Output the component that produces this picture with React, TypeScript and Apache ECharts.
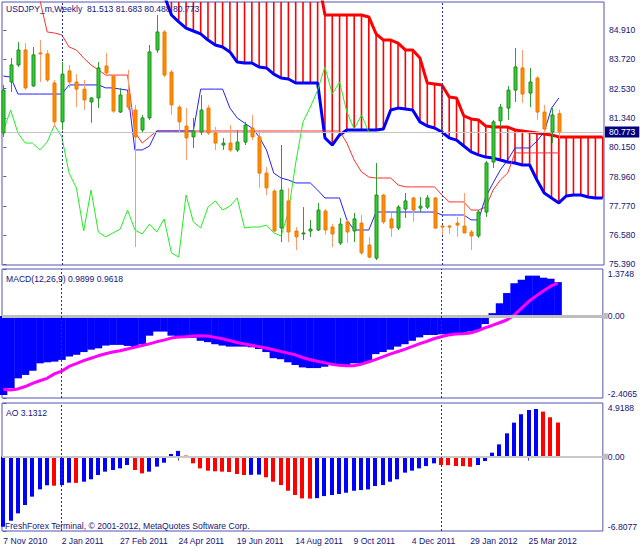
import React, { useEffect, useRef } from 'react';
import * as echarts from 'echarts';

// ---------- data (weekly USDJPY, index 0 = week of 7 Nov 2010) ----------
const opens = [80.73, 82.80, 83.49, 84.10, 82.64, 83.98, 83.94, 82.76, 81.18, 83.25,
  82.80, 82.51, 81.99, 82.15, 83.45, 83.04, 81.58, 82.31, 81.66, 80.85,
  81.34, 84.10, 84.83, 83.20, 81.78, 81.01, 80.57, 80.77, 81.74, 80.73,
  80.24, 80.32, 80.04, 80.36, 80.93, 80.57, 79.10, 78.37, 76.87, 77.97,
  76.75, 76.63, 76.75, 76.79, 77.56, 76.91, 76.26, 77.12, 76.75, 77.07,
  76.18, 75.65, 78.21, 77.24, 76.87, 77.64, 78.09, 77.68, 77.72, 78.09,
  76.95, 76.95, 77.07, 76.95, 76.71, 76.55, 77.52, 79.55, 81.22, 81.74,
  82.47, 83.37, 82.35, 82.96, 81.58, 80.77, 81.513];
const highs = [82.68, 83.77, 84.42, 84.38, 84.22, 84.50, 84.10, 82.88, 83.61, 83.49,
  83.12, 82.88, 82.19, 83.61, 83.98, 83.08, 82.56, 83.29, 81.87, 81.46,
  84.30, 85.52, 84.91, 83.29, 81.87, 81.74, 81.34, 82.27, 81.87, 80.97,
  80.53, 81.05, 80.85, 81.18, 81.46, 80.85, 79.35, 78.45, 80.24, 78.50,
  76.91, 77.72, 77.20, 77.89, 77.64, 77.03, 77.28, 77.24, 77.48, 77.40,
  76.51, 79.51, 78.25, 77.48, 77.80, 78.29, 78.13, 78.13, 78.21, 78.13,
  76.99, 76.99, 77.32, 78.29, 76.79, 77.60, 79.59, 81.26, 81.91, 82.64,
  84.18, 84.10, 83.37, 83.04, 81.87, 81.74, 81.683];
const lows = [80.57, 82.39, 83.41, 82.47, 82.60, 82.80, 82.80, 80.97, 80.85, 82.56,
  81.78, 81.66, 81.14, 81.74, 83.08, 81.54, 81.54, 81.66, 76.10, 80.77,
  81.26, 83.98, 83.00, 81.46, 80.77, 79.63, 80.12, 80.65, 80.65, 80.04,
  80.04, 79.96, 79.96, 80.24, 80.44, 78.50, 78.21, 76.71, 76.30, 76.30,
  75.98, 76.38, 76.51, 76.75, 76.59, 76.10, 76.18, 76.26, 76.30, 75.78,
  75.65, 75.57, 77.03, 76.51, 76.79, 77.28, 77.12, 77.52, 77.64, 76.83,
  76.59, 76.63, 76.51, 76.67, 75.98, 76.47, 77.32, 79.31, 80.97, 81.26,
  81.99, 81.95, 81.78, 81.26, 80.77, 80.32, 80.488];
const closes = [82.47, 83.49, 84.10, 82.56, 83.90, 83.94, 82.88, 81.18, 83.12, 82.80,
  82.51, 82.07, 82.15, 83.37, 83.17, 81.62, 82.27, 81.78, 80.57, 81.34,
  84.02, 84.83, 83.08, 81.87, 81.18, 80.53, 80.81, 81.66, 80.73, 80.32,
  80.32, 80.04, 80.36, 81.05, 80.57, 79.10, 78.50, 76.75, 78.41, 76.71,
  76.51, 76.67, 76.83, 77.60, 76.79, 76.63, 77.03, 76.71, 77.24, 75.86,
  75.69, 78.21, 77.12, 76.87, 77.72, 77.97, 77.60, 77.76, 78.09, 76.87,
  76.91, 76.91, 76.99, 76.67, 76.55, 77.52, 79.51, 81.18, 81.78, 82.47,
  83.41, 82.31, 82.80, 81.58, 80.89, 81.46, 80.773];

const tenkan = [83.04, 83.00, 82.31, 82.31, 82.31, 82.31, 82.31, 82.31, 82.31, 82.68,
  82.68, 82.68, 82.68, 82.68, 82.56, 82.56, 82.51, 82.47, 80.04, 80.04,
  80.20, 80.81, 80.81, 80.81, 80.81, 80.81, 80.81, 82.51, 82.51, 82.51,
  82.51, 81.74, 81.34, 81.13, 80.93, 80.57, 80.04, 79.10, 78.90, 78.82,
  78.70, 78.70, 78.70, 78.41, 78.09, 78.09, 78.09, 77.20, 76.79, 76.79,
  76.79, 77.52, 77.52, 77.52, 77.52, 77.52, 77.52, 77.52, 77.52, 77.52,
  77.40, 77.40, 77.40, 77.40, 77.20, 77.20, 78.13, 78.70, 79.23, 79.63,
  80.12, 80.12, 80.12, 80.40, 80.77, 81.74, 82.15];
const kijun = [86.60, 86.60, 86.50, 86.50, 86.40, 86.13, 84.83, 84.79, 84.71, 84.22,
  84.10, 83.77, 83.49, 83.29, 83.08, 83.08, 83.08, 83.08, 80.77, 80.32,
  80.57, 80.81, 80.81, 80.81, 80.81, 80.81, 80.81, 80.81, 80.81, 80.81,
  80.81, 80.81, 80.81, 80.81, 80.81, 80.81, 80.81, 80.81, 80.81, 80.81,
  80.81, 80.81, 80.81, 80.81, 80.81, 80.81, 80.81, 80.32, 79.63, 79.15,
  78.94, 78.90, 78.90, 78.90, 78.62, 78.54, 78.54, 78.54, 78.54, 78.54,
  78.21, 77.93, 77.93, 77.93, 77.60, 77.60, 77.72, 78.41, 78.82, 79.10,
  79.92, 79.92, 79.92, 79.92, 79.92, 79.92, 79.92];
const senkouA = [87.15, 87.15, 87.15, 87.15, 87.15, 87.15, 87.15, 87.15, 87.15, 87.15,
  87.15, 87.15, 87.15, 87.15, 87.15, 87.15, 87.15, 87.15, 87.15, 87.15,
  87.15, 87.15, 87.15, 87.15, 87.15, 87.15, 87.15, 87.15, 87.15, 87.15,
  87.15, 87.15, 87.15, 87.15, 87.15, 87.15, 87.15, 87.15, 87.15, 87.15,
  87.15, 87.15, 87.15, 87.15, 85.52, 85.52, 85.52, 85.52, 85.52, 85.52,
  85.44, 84.75, 84.50, 84.50, 84.38, 84.10, 84.10, 83.77, 82.76, 82.72,
  82.68, 82.19, 82.15, 81.42, 81.30, 81.26, 81.01, 80.97, 80.97, 80.97,
  80.85, 80.81, 80.77, 80.73, 80.69, 80.65, 80.57, 80.57, 80.57, 80.57,
  80.57, 80.57, 80.57];
const senkouB = [86.90, 86.90, 86.90, 86.90, 86.90, 86.90, 86.90, 86.90, 86.90, 86.90,
  86.90, 86.90, 86.90, 86.90, 86.90, 86.90, 86.90, 86.90, 86.90, 86.90,
  86.90, 86.90, 86.33, 85.52, 85.24, 84.99, 84.87, 84.75, 84.50, 84.30,
  84.22, 84.02, 83.61, 83.57, 83.57, 83.41, 83.37, 83.12, 82.96, 82.92,
  82.76, 82.76, 82.76, 82.76, 80.53, 80.24, 80.65, 80.85, 80.85, 80.85,
  80.85, 80.85, 80.89, 81.66, 81.74, 81.70, 81.66, 81.18, 81.01, 80.93,
  80.77, 80.53, 80.44, 80.20, 79.96, 79.84, 79.75, 79.71, 79.63, 79.55,
  79.51, 79.43, 79.43, 78.82, 78.29, 78.09, 77.89, 78.17, 78.21, 78.21,
  78.13, 78.09, 78.09];

const macdMain = [-2.32, -2.12, -1.83, -1.73, -1.61, -1.39, -1.36, -1.34, -1.29, -1.19,
  -1.14, -1.06, -0.99, -0.95, -0.87, -0.85, -0.85, -0.88, -0.91, -0.83,
  -0.58, -0.46, -0.46, -0.58, -0.61, -0.61, -0.64, -0.73, -0.77, -0.83,
  -0.87, -0.90, -0.90, -0.90, -0.92, -0.97, -1.06, -1.24, -1.27, -1.36,
  -1.44, -1.51, -1.53, -1.53, -1.49, -1.44, -1.44, -1.44, -1.39, -1.39,
  -1.34, -1.12, -1.06, -0.99, -0.90, -0.83, -0.73, -0.63, -0.56, -0.56,
  -0.54, -0.56, -0.53, -0.51, -0.46, -0.41, -0.24, 0.08, 0.37, 0.67,
  0.96, 1.06, 1.18, 1.18, 1.12, 1.09, 0.9899];
const macdSignal = [-2.15, -2.17, -2.14, -2.07, -1.98, -1.90, -1.83, -1.70, -1.62, -1.48,
  -1.40, -1.31, -1.24, -1.17, -1.11, -1.06, -1.02, -0.97, -0.92, -0.87,
  -0.82, -0.76, -0.71, -0.65, -0.62, -0.61, -0.59, -0.58, -0.59, -0.63,
  -0.67, -0.72, -0.78, -0.82, -0.86, -0.90, -0.94, -0.99, -1.04, -1.09,
  -1.14, -1.22, -1.28, -1.33, -1.37, -1.42, -1.45, -1.46, -1.46, -1.42,
  -1.35, -1.28, -1.20, -1.12, -1.05, -0.98, -0.90, -0.82, -0.75, -0.67,
  -0.61, -0.56, -0.53, -0.52, -0.50, -0.44, -0.35, -0.28, -0.20, -0.12,
  0.02, 0.22, 0.42, 0.58, 0.73, 0.87, 0.9618];
const aoValues = [-6.42, -5.87, -5.19, -4.43, -3.66, -2.99, -2.62, -2.66, -2.60, -2.38,
  -2.40, -2.29, -2.07, -1.68, -1.37, -1.22, -1.07, -0.76, -1.22, -1.53,
  -1.37, -0.91, -0.55, 0.25, 0.53, 0.10, -0.61, -1.07, -1.28, -1.34,
  -1.37, -1.40, -1.59, -1.68, -1.66, -1.64, -1.89, -2.29, -2.60, -3.12,
  -3.51, -3.82, -3.84, -3.80, -3.61, -3.51, -3.42, -3.30, -3.12, -3.06,
  -3.00, -2.69, -2.60, -2.29, -2.07, -1.46, -1.28, -1.07, -0.86, -0.61,
  -0.76, -0.78, -0.86, -0.87, -0.92, -0.76, -0.40, 0.37, 1.13, 2.14,
  3.12, 3.89, 4.28, 4.37, 4.13, 3.61, 3.1312];

const tickIndex = [0, 8, 16, 24, 32, 40, 48, 56, 64, 72];
const tickLabels = ['7 Nov 2010', '2 Jan 2011', '27 Feb 2011', '24 Apr 2011', '19 Jun 2011',
  '14 Aug 2011', '9 Oct 2011', '4 Dec 2011', '29 Jan 2012', '25 Mar 2012'];
const priceTicks = [75.39, 76.58, 77.77, 78.96, 80.15, 81.34, 82.53, 83.72, 84.91];
const separatorIndex = [8, 60];
const lastPrice = 80.773;
const chikouShift = 26;
const priceRange = [75.369, 86.047];
const macdRange = [-2.4065, 1.3748];
const aoRange = [-6.8077, 4.9188];
const xRange = [-0.178, 82.176];

// ---------- styling ----------
const FONT = 'Tahoma, "Liberation Sans", Arial, sans-serif';
const FS = 8.6;
const TXT = '#14147A';
const FRAME = '#5454B4';

export default function App() {
  const ref = useRef<HTMLDivElement>(null);

  useEffect(() => {
    document.body.style.margin = '0';
    if (!ref.current) return;
    const chart = echarts.init(ref.current, null, { renderer: 'svg' });

    const candleData = opens.map((o, i) => [i, o, closes[i], lows[i], highs[i]]);
    const cloudData = senkouA.map((a, i) => [i, a, senkouB[i]]);
    const chikouData = closes.slice(chikouShift).map((v, k) => [k, v]);
    const toXY = (arr: number[]) => arr.map((v, i) => [i, v]);

    const sepStyle = { color: '#2A2A9A', width: 1, type: [2, 2] as any };
    const sepLines = separatorIndex.map((x) => ({ xAxis: x, lineStyle: sepStyle }));
    const levelMarker = {
      show: true, position: 'end', distance: 1, formatter: ' ',
      backgroundColor: '#BDBDBD', padding: 0, width: 4, height: 6, fontSize: 5,
    };

    const xAxisBase = (gi: number, labels: boolean) => ({
      type: 'value', gridIndex: gi, min: xRange[0], max: xRange[1],
      axisLine: { show: false }, splitLine: { show: false },
      axisTick: labels ? { show: true, customValues: tickIndex, length: 4, lineStyle: { color: FRAME } } : { show: false },
      axisLabel: labels ? {
        show: true, customValues: tickIndex, align: 'left', margin: 5,
        color: TXT, fontFamily: FONT, fontSize: FS,
        formatter: (v: number) => tickLabels[tickIndex.indexOf(Math.round(v))] || '',
      } : { show: false },
    });

    const yAxisBase = (gi: number, range: number[], ticks: number[], fmt: (v: number) => string, edge: boolean) => ({
      type: 'value', gridIndex: gi, position: 'right', min: range[0], max: range[1],
      axisLine: { show: false }, splitLine: { show: false },
      axisTick: { show: true, customValues: ticks, length: 3, lineStyle: { color: FRAME } },
      axisLabel: {
        show: true, customValues: ticks, margin: 5, color: TXT, fontFamily: FONT, fontSize: FS,
        formatter: fmt,
        ...(edge ? { verticalAlignMaxLabel: 'top', verticalAlignMinLabel: 'bottom' } : {}),
      },
    });

    const indFmt = (v: number) => (Math.abs(v) < 1e-9 ? '0.00' : v.toFixed(4));
    const titleStyle = { fontSize: FS, fontWeight: 'normal', color: TXT, fontFamily: FONT };

    const option: any = {
      animation: false,
      backgroundColor: '#FFFFFF',
      textStyle: { fontFamily: FONT },
      title: [
        { text: 'USDJPY_m,Weekly  81.513 81.683 80.488 80.773', left: 6, top: 4, padding: 0, textStyle: titleStyle },
        { text: 'MACD(12,26,9) 0.9899 0.9618', left: 6, top: 274, padding: 0, textStyle: titleStyle },
        { text: 'AO 3.1312', left: 6, top: 408, padding: 0, textStyle: titleStyle },
        { text: 'FreshForex Terminal, \u00A9 2001-2012, MetaQuotes Software Corp.', left: 5, top: 521, padding: 0, textStyle: titleStyle },
      ],
      grid: [
        { left: 2, top: 2, width: 602, height: 263, show: true, borderColor: FRAME, borderWidth: 1, backgroundColor: 'transparent' },
        { left: 2, top: 269, width: 602, height: 129, show: true, borderColor: FRAME, borderWidth: 1, backgroundColor: 'transparent' },
        { left: 2, top: 403, width: 602, height: 128, show: true, borderColor: FRAME, borderWidth: 1, backgroundColor: 'transparent' },
      ],
      xAxis: [xAxisBase(0, false), xAxisBase(1, false), xAxisBase(2, true)],
      yAxis: [
        yAxisBase(0, priceRange, priceTicks, (v: number) => v.toFixed(3), false),
        yAxisBase(1, macdRange, [macdRange[0], 0, macdRange[1]], indFmt, true),
        yAxisBase(2, aoRange, [aoRange[0], 0, aoRange[1]], indFmt, true),
      ],
      series: [
        // Kumo hatching
        {
          type: 'custom', xAxisIndex: 0, yAxisIndex: 0, z: 1, silent: true,
          data: cloudData, encode: { x: 0, y: [1, 2] },
          renderItem: (params: any, api: any) => {
            const i = api.value(0);
            const p1 = api.coord([i, api.value(1)]);
            const p2 = api.coord([i, api.value(2)]);
            const cs = params.coordSys;
            const top = cs.y, bot = cs.y + cs.height;
            const y1 = Math.max(top, Math.min(bot, p1[1]));
            const y2 = Math.max(top, Math.min(bot, p2[1]));
            if (Math.abs(y1 - y2) < 0.5) return null;
            return { type: 'line', shape: { x1: p1[0], y1, x2: p1[0], y2 }, style: { stroke: '#FF0000', lineWidth: 1.6 } };
          },
        },
        {
          type: 'line', name: 'SenkouA', xAxisIndex: 0, yAxisIndex: 0, z: 2, silent: true,
          data: toXY(senkouA), showSymbol: false, symbol: 'none', lineStyle: { color: '#FF0000', width: 3 },
          markLine: {
            silent: true, symbol: ['none', 'none'], animation: false,
            data: [{ yAxis: lastPrice }],
            lineStyle: { color: '#C4C4C4', width: 1, type: 'solid' },
            label: {
              show: true, position: 'end', distance: 1, formatter: lastPrice.toFixed(3),
              backgroundColor: '#000080', color: '#FFFFFF', padding: [1, 4, 1, 4],
              fontFamily: FONT, fontSize: FS,
            },
          },
        },
        {
          type: 'line', name: 'SenkouB', xAxisIndex: 0, yAxisIndex: 0, z: 2, silent: true,
          data: toXY(senkouB), showSymbol: false, symbol: 'none', lineStyle: { color: '#0000FF', width: 3 },
        },
        {
          type: 'line', name: 'Kijun', xAxisIndex: 0, yAxisIndex: 0, z: 3, silent: true,
          data: toXY(kijun), showSymbol: false, symbol: 'none', lineStyle: { color: '#FF3030', width: 1 },
          markLine: {
            silent: true, symbol: ['none', 'none'], animation: false, data: sepLines, label: { show: false },
          },
        },
        {
          type: 'line', name: 'Tenkan', xAxisIndex: 0, yAxisIndex: 0, z: 3, silent: true,
          data: toXY(tenkan), showSymbol: false, symbol: 'none', lineStyle: { color: '#2020FF', width: 1 },
        },
        {
          type: 'line', name: 'Chikou', xAxisIndex: 0, yAxisIndex: 0, z: 3, silent: true,
          data: chikouData, showSymbol: false, symbol: 'none', lineStyle: { color: '#22EE22', width: 1 },
        },
        // candles
        {
          type: 'custom', xAxisIndex: 0, yAxisIndex: 0, z: 5, silent: true,
          data: candleData, encode: { x: 0, y: [1, 2, 3, 4] },
          renderItem: (params: any, api: any) => {
            const i = api.value(0);
            const o = api.value(1), c = api.value(2), l = api.value(3), h = api.value(4);
            const po = api.coord([i, o]), pc = api.coord([i, c]);
            const pl = api.coord([i, l]), ph = api.coord([i, h]);
            const x = Math.round(po[0]) + 0.5;
            const bull = c > o;
            const top = Math.min(po[1], pc[1]);
            const bot = Math.max(po[1], pc[1]);
            return {
              type: 'group',
              children: [
                { type: 'line', shape: { x1: x, y1: ph[1], x2: x, y2: pl[1] },
                  style: { stroke: bull ? '#2F9F2F' : '#FF9B6A', lineWidth: 1 } },
                { type: 'rect', shape: { x: x - 1.5, y: top, width: 3, height: Math.max(1, bot - top) },
                  style: { fill: bull ? '#33CC33' : '#FF8C00', stroke: bull ? '#1E8F1E' : '#F07800', lineWidth: 1 } },
              ],
            };
          },
        },
        // MACD histogram
        {
          type: 'custom', xAxisIndex: 1, yAxisIndex: 1, z: 2, silent: true,
          data: toXY(macdMain), encode: { x: 0, y: 1 },
          renderItem: (params: any, api: any) => {
            const i = api.value(0);
            const p0 = api.coord([i - 0.5, 0]);
            const p1 = api.coord([i + 0.5, api.value(1)]);
            return { type: 'rect', shape: { x: p0[0], y: Math.min(p0[1], p1[1]), width: p1[0] - p0[0] + 0.4, height: Math.abs(p1[1] - p0[1]) },
              style: { fill: '#0000FF' } };
          },
        },
        {
          type: 'line', name: 'Signal', xAxisIndex: 1, yAxisIndex: 1, z: 4, silent: true,
          data: toXY(macdSignal), showSymbol: false, symbol: 'none', lineStyle: { color: '#FF00FF', width: 3 },
          markLine: {
            silent: true, symbol: ['none', 'none'], animation: false,
            data: [
              { yAxis: 0, lineStyle: { color: '#BEBEBE', width: 3, type: 'solid' }, label: levelMarker },
              ...sepLines,
            ],
            label: { show: false },
          },
        },
        // AO
        {
          type: 'custom', xAxisIndex: 2, yAxisIndex: 2, z: 2, silent: true,
          data: toXY(aoValues), encode: { x: 0, y: 1 },
          renderItem: (params: any, api: any) => {
            const i = api.value(0);
            const v = api.value(1);
            const up = i === 0 || v > aoValues[i - 1];
            const p0 = api.coord([i, 0]);
            const p1 = api.coord([i, v]);
            const x = Math.round(p0[0]) - 2;
            return { type: 'rect', shape: { x, y: Math.min(p0[1], p1[1]), width: 4, height: Math.abs(p1[1] - p0[1]) },
              style: { fill: up ? '#0000FF' : '#FF0000' } };
          },
        },
        {
          type: 'line', name: 'AOlevels', xAxisIndex: 2, yAxisIndex: 2, z: 1, silent: true,
          data: [], showSymbol: false, symbol: 'none',
          markLine: {
            silent: true, symbol: ['none', 'none'], animation: false,
            data: [
              { yAxis: 0, lineStyle: { color: '#C8C8C8', width: 2, type: 'solid' }, label: levelMarker },
              ...sepLines,
            ],
            label: { show: false },
          },
        },
      ],
    };

    chart.setOption(option);
    return () => chart.dispose();
  }, []);

  return <div ref={ref} style={{ position: 'absolute', left: 0, top: 0, width: 640, height: 549, background: '#fff' }} />;
}
